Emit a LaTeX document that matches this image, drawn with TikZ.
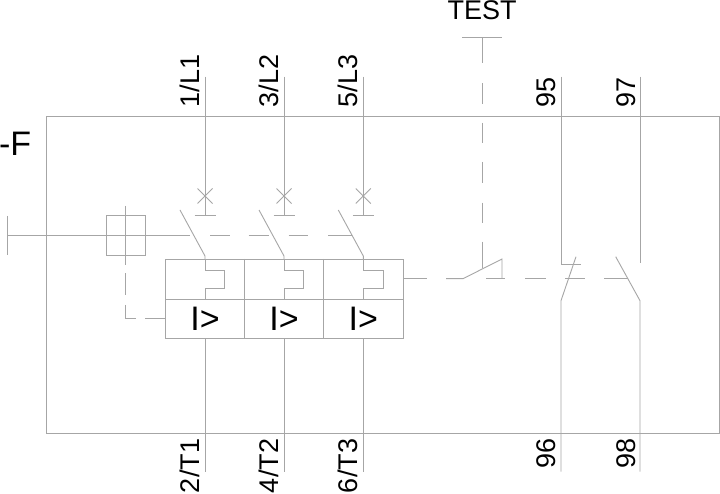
\documentclass[tikz,border=0pt]{standalone}
\usepackage{fontspec}
\setmainfont{Liberation Sans}
\tikzset{
  wire/.style={draw=black!35, line width=0.9pt},
  lbl/.style={inner sep=0pt, outer sep=0pt, text=black, font=\fontsize{27}{31}\selectfont},
  vlbl/.style={lbl, rotate=90, anchor=base west},
  big/.style={inner sep=0pt, outer sep=0pt, text=black, font=\fontsize{34}{38}\selectfont, anchor=base west}
}
\begin{document}
\begin{tikzpicture}[x=1pt,y=-1pt]
\fill[white] (0,0) rectangle (720,494);
\useasboundingbox (0,0) rectangle (720,494);
% enclosure
\draw[wire] (46.5,116.7) rectangle (719.4,433.3);
% poles
\foreach \x/\n/\up/\dn/\ly in {205/a/1\slash L1/2\slash T1/493, 284/b/3\slash L2/4\slash T2/493, 363.3/c/5\slash L3/6\slash T3/493}{
  \coordinate (top\n) at (\x,76.7);
  \coordinate (bar\n) at (\x,215.7);
  \coordinate (hinge\n) at (\x,256);
  \coordinate (boxtop\n) at (\x,259);
  \coordinate (boxmid\n) at (\x,299);
  \coordinate (boxbot\n) at (\x,338);
  \coordinate (end\n) at (\x,471.7);
  \draw[wire] (top\n) -- (bar\n);
  \draw[wire] ([xshift=-10.5pt]bar\n) -- ([xshift=10.5pt]bar\n);
  \draw[wire] (\x-7.5,188.5) -- (\x+7.5,203.5);
  \draw[wire] (\x-7.5,203.5) -- (\x+7.5,188.5);
  \draw[wire] (\x-25,210) -- (hinge\n) -- (boxtop\n);
  \draw[wire] (boxtop\n) -- (\x,270) -- (\x+19.7,270) -- (\x+19.7,288) -- (\x,288) -- (boxmid\n);
  \draw[wire] (boxbot\n) -- (end\n);
  \node[big] (ov\n) at (\x-14.7,330.7) {I>};
  \node[vlbl] (up\n) at (\x-6,107.5) {\up};
  \node[vlbl] (dn\n) at (\x-6,\ly) {\dn};
}
% relay box
\draw[wire] (165,259) rectangle (403,338);
\draw[wire] (165,299) -- (403,299);
\draw[wire] (244.3,259) -- (244.3,338);
\draw[wire] (323.5,259) -- (323.5,338);
% handle
\coordinate (hstart) at (7,235.3);
\draw[wire] (7,216) -- (7,255.5);
\draw[wire] (hstart) -- (190,235.3);
\draw[wire] (106,215.7) rectangle (145.7,255.3);
\draw[wire] (125.8,206) -- (125.8,265);
\draw[wire] (125.8,273.5) -- (125.8,295);
\draw[wire] (125.8,305) -- (125.8,318.5) -- (135.5,318.5);
\draw[wire] (145,318.5) -- (165,318.5);
% mechanical link along the poles
\foreach \a/\b in {210/229.5, 248.5/268.5, 288.5/308, 328/352}{
  \draw[wire] (\a,235.3) -- (\b,235.3);
}
% link to the auxiliary contacts
\foreach \a/\b in {403/427, 486/505, 525/546, 565/585, 604/628}{
  \draw[wire] (\a,278.7) -- (\b,278.7);
}
% test button
\node[lbl, anchor=base west] (test) at (447.5,20) {TEST};
\draw[wire] (462,37.5) -- (502,37.5);
\foreach \a/\b in {37.5/63.5, 83.5/104, 123/143.5, 162/183, 202.7/223, 241.7/268.5}{
  \draw[wire] (482,\a) -- (482,\b);
}
\draw[wire] (446,278.7) -- (463,278.7) -- (502,259) -- (502,278.7);
% NC contact 95/96
\coordinate (t95) at (561,76.7);
\coordinate (e96) at (561,471.7);
\draw[wire] (t95) -- (561,264) -- (581,264);
\draw[wire] (576,256.7) -- (561,300.7) -- (e96);
\node[vlbl] (n95) at (555,107.5) {95};
\node[vlbl] (n96) at (555,468.5) {96};
% NO contact 97/98
\coordinate (t97) at (640,76.7);
\coordinate (e98) at (640,471.7);
\draw[wire] (t97) -- (640,263.5);
\draw[wire] (615.7,256.7) -- (640,300.7) -- (e98);
\node[vlbl] (n97) at (635,107.5) {97};
\node[vlbl] (n98) at (635,468.5) {98};
% device tag
\node[big] (tag) at (-1,156) {-F};
\end{tikzpicture}
\end{document}
